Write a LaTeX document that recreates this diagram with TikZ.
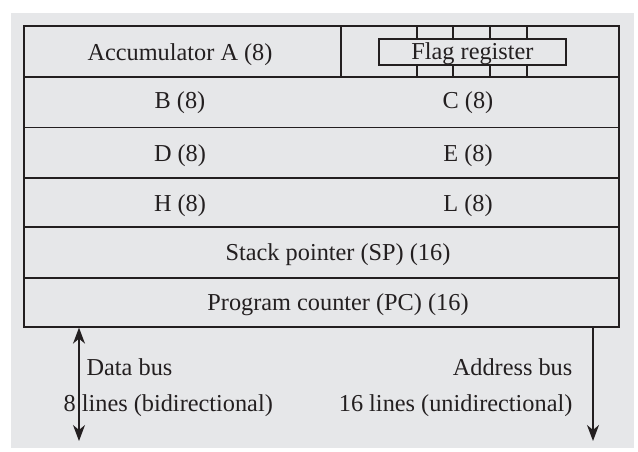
\documentclass[tikz,border=0pt]{standalone}
\usepackage{fontspec}
\setmainfont{Liberation Serif}
\usetikzlibrary{arrows.meta}
\definecolor{panel}{RGB}{230,231,233}
\definecolor{ink}{RGB}{35,31,32}
\tikzset{bustip/.tip={Stealth[length=16pt,width=12pt,inset=5pt]}}
\begin{document}
\begin{tikzpicture}[x=1pt,y=-1pt,line width=1.3pt,draw=ink,
  lbl/.style={font=\fontsize{24.3}{29}\selectfont,text=ink,inner sep=0pt,anchor=base},
  regbox/.style={draw=ink,line width=1.3pt,inner sep=0pt},
  bus/.style={draw=ink,line width=1.4pt,-bustip},
  bibus/.style={draw=ink,line width=1.4pt,bustip-bustip}]
\useasboundingbox (0,0) rectangle (638,452);
\fill[white] (0,0) rectangle (638,452);
\fill[panel] (11,13) rectangle (634,448);

% register file outline and row separators
\node[regbox,minimum width=595pt,minimum height=301pt] (regs) at (321.5,176.5) {};
\foreach \y in {77,127.5,178,227,278} \draw (24,\y) -- (619,\y);
\draw (341,26) -- (341,77);

% flag register with its bit cells
\node[regbox,minimum width=187pt,minimum height=26pt] (flag) at (472.5,52) {};
\foreach \x in {417,453,490,527} {
  \draw (\x,26) -- (\x,39);
  \draw (\x,65) -- (\x,77);
}

% register names
\node[lbl] (acc) at (180,60.5) {Accumulator A (8)};
\node[lbl] (flagtxt) at (472.5,60) {Flag register};
\node[lbl] (regb) at (180,108.5) {B (8)};
\node[lbl] (regc) at (468,108.5) {C (8)};
\node[lbl] (regd) at (180,161) {D (8)};
\node[lbl] (rege) at (468,161) {E (8)};
\node[lbl] (regh) at (180,211) {H (8)};
\node[lbl] (regl) at (468,211) {L (8)};
\node[lbl] (sp) at (338,260) {Stack pointer (SP) (16)};
\node[lbl] (pc) at (338,310) {Program counter (PC) (16)};

% buses
\coordinate (dend) at (79,441);
\coordinate (aend) at (593,441);
\draw[bibus] (regs.south -| dend) -- (dend);
\draw[bus] (regs.south -| aend) -- (aend);

\node[lbl,anchor=base west] (dbus) at (86,375) {Data bus};
\node[lbl,anchor=base west] (dlines) at (63,411.5) {8 lines (bidirectional)};
\node[lbl,anchor=base east] (abus) at (573,375) {Address bus};
\node[lbl,anchor=base east] (alines) at (573,411.5) {16 lines (unidirectional)};
\end{tikzpicture}
\end{document}
